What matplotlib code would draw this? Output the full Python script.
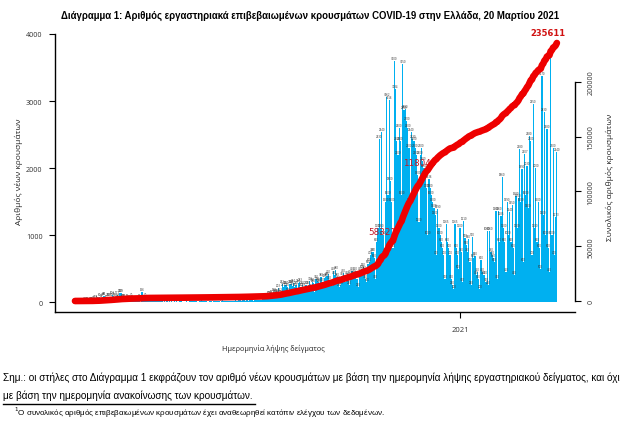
import numpy as np
import pandas as pd
import matplotlib
matplotlib.use("Agg")
import matplotlib.pyplot as plt
import matplotlib.dates as mdates
from matplotlib import font_manager
from matplotlib.lines import Line2D

# daily new cases by sample date, 26 Feb 2020 - 20 Mar 2021
feb20 = [1, 2, 0, 4]
mar20 = [2, 0, 0, 2, 21, 13, 20, 7, 15, 18, 18, 23, 39, 38, 20, 21, 80, 63, 77, 88,
         86, 50, 71, 69, 74, 80, 103, 94, 79, 59, 111]
apr20 = [62, 130, 129, 60, 62, 63, 34, 56, 45, 39, 70, 42, 23, 17, 25, 19, 34, 53, 7, 156,
         47, 29, 70, 16, 19, 13, 14, 12, 13, 17]
may20 = [15, 10, 12, 8, 15, 10, 5, 8, 4, 11, 3, 10, 6, 16, 6, 10, 4, 8, 5, 18,
         22, 10, 5, 4, 5, 20, 7, 15, 11, 12, 8]
jun20 = [13, 9, 10, 5, 15, 22, 24, 11, 15, 10, 8, 5, 17, 11, 12, 7, 14, 9, 16, 17,
         8, 6, 18, 24, 19, 15, 10, 12, 18, 14]
jul20 = [22, 20, 17, 25, 14, 18, 27, 38, 19, 28, 30, 16, 34, 27, 16, 25, 31, 45, 20, 25,
         31, 29, 33, 32, 27, 50, 48, 38, 57, 70, 106]
aug20 = [110, 75, 121, 150, 141, 118, 140, 203, 152, 126, 262, 217, 260, 254, 230, 155,
         270, 269, 235, 284, 229, 250, 134, 284, 293, 227, 250, 229, 170, 250, 180]
sep20 = [250, 310, 212, 300, 280, 145, 340, 310, 300, 290, 380, 300, 210, 360, 380,
         395, 420, 330, 250, 240, 460, 400, 480, 380, 330, 230, 250, 390, 430, 350]
oct20 = [300, 400, 380, 250, 420, 460, 400, 420, 460, 350, 220, 380, 460, 500, 520,
         480, 340, 300, 560, 600, 700, 750, 750, 650, 350, 900, 1100, 2430, 1100, 2540, 1000]
nov20 = [700, 1500, 3062, 1600, 3016, 1800, 1500, 800, 3600, 3184, 2400, 2200, 2600, 2400,
         1600, 3550, 2859, 2880, 2700, 2600, 2300, 1500, 2540, 2430, 2400, 2300, 2200, 1900,
         1200, 2200]
dec20 = [2300, 2100, 2000, 1900, 1700, 1000, 1836, 1700, 1600, 1500, 1400, 1300, 700, 1390,
         1100, 1000, 900, 800, 700, 350, 1165, 900, 800, 700, 350, 250, 200, 1165, 800,
         700, 500]
jan21 = [1100, 750, 300, 1210, 950, 850, 750, 940, 600, 250, 970, 650, 690, 400, 450,
         350, 200, 620, 450, 400, 400, 300, 1060, 250, 1060, 750, 700, 650, 600, 1360, 350]
feb21 = [1360, 900, 1285, 1860, 1100, 900, 450, 1490, 1000, 1340, 900, 1450, 800, 400,
         1580, 1100, 1550, 2280, 1500, 1990, 600, 2207, 1600, 2030, 1400, 2480, 2400, 700]
mar21 = [2950, 1100, 2000, 900, 1500, 800, 500, 3370, 1300, 2830, 1000, 2580, 800, 450,
         3700, 1000, 2300, 700, 1273, 2240]

daily = np.array(feb20 + mar20 + apr20 + may20 + jun20 + jul20 + aug20 + sep20 + oct20
                 + nov20 + dec20 + jan21 + feb21 + mar21)
dates = pd.date_range("2020-02-26", periods=len(daily), freq="D")
total = np.cumsum(daily)

# red labels on the cumulative line
marks = ["58321", "118044"]
last_label = "235611"

title = ("Διάγραμμα 1: Αριθμός εργαστηριακά επιβεβαιωμένων κρουσμάτων COVID-19 "
         "στην Ελλάδα, 20 Μαρτίου 2021")
note1 = ("Σημ.: οι στήλες στο Διάγραμμα 1 εκφράζουν τον αριθμό νέων κρουσμάτων με βάση "
         "την ημερομηνία λήψης εργαστηριακού δείγματος, και όχι")
note2 = "με βάση την ημερομηνία ανακοίνωσης των κρουσμάτων."
note3 = "Ο συνολικός αριθμός επιβεβαιωμένων κρουσμάτων έχει αναθεωρηθεί κατόπιν ελέγχου των δεδομένων."

W, H = 634, 427
fig = plt.figure(figsize=(W / 100, H / 100), dpi=100)
fig.patch.set_facecolor("white")

def fx(px):
    return px / W

def fy(py):
    return 1 - py / H

ax = fig.add_axes([fx(55), fy(313), fx(575) - fx(55), fy(35) - fy(313)])
ax2 = ax.twinx()

xnum = mdates.date2num(dates)
jan1 = mdates.date2num(pd.Timestamp("2021-01-01"))
ax.set_xlim(xnum[0] - 16.1, jan1 + 92.6)

ax.bar(xnum, daily, width=1.0, color="#00B0F0", linewidth=0, zorder=2)
for xi, v in zip(xnum, daily):
    ax.text(xi, v + 15, str(v), fontsize=1.9, color="#3a3a3a", ha="center",
            va="bottom", zorder=3)

ax.set_ylim(-149, 4000)
ax.set_yticks([0, 1000, 2000, 3000, 4000])
ax.set_xticks([jan1])
ax.set_xticklabels(["2021"])
for s in ["top", "right"]:
    ax.spines[s].set_visible(False)
ax.spines["left"].set_linewidth(1.0)
ax.spines["bottom"].set_linewidth(1.0)
ax.tick_params(axis="y", length=4, width=0.8, pad=5, labelsize=5.2, labelcolor="#333333")
ax.tick_params(axis="x", length=4, width=0.8, pad=6, labelsize=5.5, labelcolor="#333333")
for t in ax.get_yticklabels() + ax.get_xticklabels():
    t.set_family("Open Sans")

ax2.plot(xnum, total, color="#EE0000", linewidth=4.8, solid_capstyle="round", zorder=3)
ax2.set_ylim(-10046, 243836)
ax2.set_yticks([0, 50000, 100000, 150000, 200000])
for s in ["top", "left", "bottom"]:
    ax2.spines[s].set_visible(False)
ax2.spines["right"].set_bounds(0, 200000)
ax2.spines["right"].set_linewidth(1.0)
ax2.tick_params(axis="y", length=4, width=0.8, pad=5, labelsize=5.2, labelcolor="#333333")
for t in ax2.get_yticklabels():
    t.set_rotation(90)
    t.set_va("center")
    t.set_family("Open Sans")

ax2.text(xnum[0] + 247.5, 63900, marks[0], fontsize=6.3, color="#C01828",
         ha="center", va="center", zorder=1)
ax2.text(xnum[0] + 277.5, 126900, marks[1], fontsize=6.3, color="#C01828",
         ha="center", va="center", zorder=1)
ax2.text(xnum[-1] - 7, total[-1] + 5500, last_label, fontsize=6, color="#D01010",
         fontweight="bold", ha="center", va="bottom", zorder=4)

# condensed bold title, sized to the reference width
names = {f.name for f in font_manager.fontManager.ttflist}
if "Liberation Sans Narrow" in names:
    tfam = "Liberation Sans Narrow"
else:
    tfam = "Liberation Sans"
ttl = fig.text(fx(310), fy(16), title, fontsize=8.3, fontweight="bold",
               family=[tfam, "DejaVu Sans"], ha="center", va="center")

fig.text(fx(19), fy(172), "Αριθμός νέων κρουσμάτων", fontsize=6, rotation=90,
         family="Open Sans", ha="center", va="center", color="#222222")
fig.text(fx(610), fy(177), "Συνολικός αριθμός κρουσμάτων", fontsize=6, rotation=90,
         family="Open Sans", ha="center", va="center", color="#222222")
fig.text(fx(273), fy(349), "Ημερομηνία λήψης δείγματος", fontsize=5.3,
         family="Open Sans", ha="center", va="center", color="#222222")

fig.text(fx(3), fy(378), note1, fontsize=7.2, family="Liberation Sans", ha="left", va="center")
fig.text(fx(3), fy(396), note2, fontsize=7.2, family="Liberation Sans", ha="left", va="center")
fig.add_artist(Line2D([fx(3), fx(255)], [fy(405), fy(405)], color="black", linewidth=1.0))
fig.text(fx(14), fy(413), "$^1$" + note3, fontsize=5.8, family="Liberation Sans",
         ha="left", va="center")

fig.canvas.draw()
w = ttl.get_window_extent().width
ttl.set_fontsize(8.3 * 500 / w)

fig.savefig("out.png", dpi=100)
